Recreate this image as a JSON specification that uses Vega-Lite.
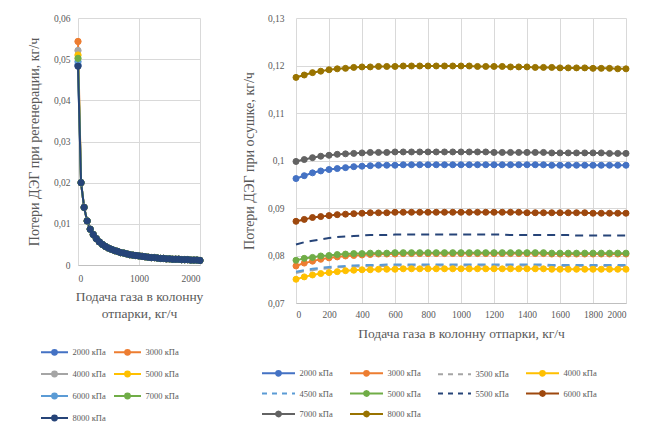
{
"$schema": "https://vega.github.io/schema/vega-lite/v6.json",
"background": "white",
"padding": {"left": 27, "top": 13, "right": 4, "bottom": 2},
"config": {
  "font": "Liberation Serif, Times New Roman, serif",
  "view": {"stroke": null},
  "concat": {"spacing": 36},
  "axis": {"labelFont": "Liberation Serif, Times New Roman, serif", "titleFont": "Liberation Serif, Times New Roman, serif", "labelFontSize": 9.5, "titleFontSize": 13.5, "titleFontWeight": "normal", "labelColor": "#595959", "titleColor": "#595959", "gridColor": "#d9d9d9", "domainColor": "#bfbfbf", "ticks": false},
  "axisY": {"titleFontSize": 14},
  "legend": {"labelFont": "Liberation Serif, Times New Roman, serif", "labelFontSize": 8.5, "labelColor": "#595959", "padding": 0}
},
"resolve": {"scale": {"fill": "independent", "stroke": "independent"}, "legend": {"fill": "independent", "stroke": "independent"}},
"datasets": {
"L": [
{"s":2000,"x":0,"y":0.0486},{"s":2000,"x":50,"y":0.02},{"s":2000,"x":100,"y":0.014},{"s":2000,"x":150,"y":0.0107},{"s":2000,"x":200,"y":0.0087},{"s":2000,"x":250,"y":0.0074},{"s":2000,"x":300,"y":0.0064},{"s":2000,"x":350,"y":0.0056},{"s":2000,"x":400,"y":0.005},{"s":2000,"x":450,"y":0.0045},{"s":2000,"x":500,"y":0.0041},{"s":2000,"x":550,"y":0.0038},{"s":2000,"x":600,"y":0.0035},{"s":2000,"x":650,"y":0.0033},{"s":2000,"x":700,"y":0.003},{"s":2000,"x":750,"y":0.0029},{"s":2000,"x":800,"y":0.0027},{"s":2000,"x":850,"y":0.0025},{"s":2000,"x":900,"y":0.0024},{"s":2000,"x":950,"y":0.0023},{"s":2000,"x":1000,"y":0.0022},{"s":2000,"x":1050,"y":0.0021},{"s":2000,"x":1100,"y":0.002},{"s":2000,"x":1150,"y":0.0019},{"s":2000,"x":1200,"y":0.0018},{"s":2000,"x":1250,"y":0.0018},{"s":2000,"x":1300,"y":0.0017},{"s":2000,"x":1350,"y":0.0016},{"s":2000,"x":1400,"y":0.0016},{"s":2000,"x":1450,"y":0.0015},{"s":2000,"x":1500,"y":0.0015},{"s":2000,"x":1550,"y":0.0014},{"s":2000,"x":1600,"y":0.0014},{"s":2000,"x":1650,"y":0.0014},{"s":2000,"x":1700,"y":0.0013},{"s":2000,"x":1750,"y":0.0013},{"s":2000,"x":1800,"y":0.0013},{"s":2000,"x":1850,"y":0.0012},{"s":2000,"x":1900,"y":0.0012},{"s":2000,"x":1950,"y":0.0012},{"s":2000,"x":2000,"y":0.0011},
{"s":3000,"x":0,"y":0.0543},{"s":3000,"x":50,"y":0.02},{"s":3000,"x":100,"y":0.014},{"s":3000,"x":150,"y":0.0107},{"s":3000,"x":200,"y":0.0087},{"s":3000,"x":250,"y":0.0074},{"s":3000,"x":300,"y":0.0064},{"s":3000,"x":350,"y":0.0056},{"s":3000,"x":400,"y":0.005},{"s":3000,"x":450,"y":0.0045},{"s":3000,"x":500,"y":0.0041},{"s":3000,"x":550,"y":0.0038},{"s":3000,"x":600,"y":0.0035},{"s":3000,"x":650,"y":0.0033},{"s":3000,"x":700,"y":0.003},{"s":3000,"x":750,"y":0.0029},{"s":3000,"x":800,"y":0.0027},{"s":3000,"x":850,"y":0.0025},{"s":3000,"x":900,"y":0.0024},{"s":3000,"x":950,"y":0.0023},{"s":3000,"x":1000,"y":0.0022},{"s":3000,"x":1050,"y":0.0021},{"s":3000,"x":1100,"y":0.002},{"s":3000,"x":1150,"y":0.0019},{"s":3000,"x":1200,"y":0.0018},{"s":3000,"x":1250,"y":0.0018},{"s":3000,"x":1300,"y":0.0017},{"s":3000,"x":1350,"y":0.0016},{"s":3000,"x":1400,"y":0.0016},{"s":3000,"x":1450,"y":0.0015},{"s":3000,"x":1500,"y":0.0015},{"s":3000,"x":1550,"y":0.0014},{"s":3000,"x":1600,"y":0.0014},{"s":3000,"x":1650,"y":0.0014},{"s":3000,"x":1700,"y":0.0013},{"s":3000,"x":1750,"y":0.0013},{"s":3000,"x":1800,"y":0.0013},{"s":3000,"x":1850,"y":0.0012},{"s":3000,"x":1900,"y":0.0012},{"s":3000,"x":1950,"y":0.0012},{"s":3000,"x":2000,"y":0.0011},
{"s":4000,"x":0,"y":0.0521},{"s":4000,"x":50,"y":0.02},{"s":4000,"x":100,"y":0.014},{"s":4000,"x":150,"y":0.0107},{"s":4000,"x":200,"y":0.0087},{"s":4000,"x":250,"y":0.0074},{"s":4000,"x":300,"y":0.0064},{"s":4000,"x":350,"y":0.0056},{"s":4000,"x":400,"y":0.005},{"s":4000,"x":450,"y":0.0045},{"s":4000,"x":500,"y":0.0041},{"s":4000,"x":550,"y":0.0038},{"s":4000,"x":600,"y":0.0035},{"s":4000,"x":650,"y":0.0033},{"s":4000,"x":700,"y":0.003},{"s":4000,"x":750,"y":0.0029},{"s":4000,"x":800,"y":0.0027},{"s":4000,"x":850,"y":0.0025},{"s":4000,"x":900,"y":0.0024},{"s":4000,"x":950,"y":0.0023},{"s":4000,"x":1000,"y":0.0022},{"s":4000,"x":1050,"y":0.0021},{"s":4000,"x":1100,"y":0.002},{"s":4000,"x":1150,"y":0.0019},{"s":4000,"x":1200,"y":0.0018},{"s":4000,"x":1250,"y":0.0018},{"s":4000,"x":1300,"y":0.0017},{"s":4000,"x":1350,"y":0.0016},{"s":4000,"x":1400,"y":0.0016},{"s":4000,"x":1450,"y":0.0015},{"s":4000,"x":1500,"y":0.0015},{"s":4000,"x":1550,"y":0.0014},{"s":4000,"x":1600,"y":0.0014},{"s":4000,"x":1650,"y":0.0014},{"s":4000,"x":1700,"y":0.0013},{"s":4000,"x":1750,"y":0.0013},{"s":4000,"x":1800,"y":0.0013},{"s":4000,"x":1850,"y":0.0012},{"s":4000,"x":1900,"y":0.0012},{"s":4000,"x":1950,"y":0.0012},{"s":4000,"x":2000,"y":0.0011},
{"s":5000,"x":0,"y":0.051},{"s":5000,"x":50,"y":0.02},{"s":5000,"x":100,"y":0.014},{"s":5000,"x":150,"y":0.0107},{"s":5000,"x":200,"y":0.0087},{"s":5000,"x":250,"y":0.0074},{"s":5000,"x":300,"y":0.0064},{"s":5000,"x":350,"y":0.0056},{"s":5000,"x":400,"y":0.005},{"s":5000,"x":450,"y":0.0045},{"s":5000,"x":500,"y":0.0041},{"s":5000,"x":550,"y":0.0038},{"s":5000,"x":600,"y":0.0035},{"s":5000,"x":650,"y":0.0033},{"s":5000,"x":700,"y":0.003},{"s":5000,"x":750,"y":0.0029},{"s":5000,"x":800,"y":0.0027},{"s":5000,"x":850,"y":0.0025},{"s":5000,"x":900,"y":0.0024},{"s":5000,"x":950,"y":0.0023},{"s":5000,"x":1000,"y":0.0022},{"s":5000,"x":1050,"y":0.0021},{"s":5000,"x":1100,"y":0.002},{"s":5000,"x":1150,"y":0.0019},{"s":5000,"x":1200,"y":0.0018},{"s":5000,"x":1250,"y":0.0018},{"s":5000,"x":1300,"y":0.0017},{"s":5000,"x":1350,"y":0.0016},{"s":5000,"x":1400,"y":0.0016},{"s":5000,"x":1450,"y":0.0015},{"s":5000,"x":1500,"y":0.0015},{"s":5000,"x":1550,"y":0.0014},{"s":5000,"x":1600,"y":0.0014},{"s":5000,"x":1650,"y":0.0014},{"s":5000,"x":1700,"y":0.0013},{"s":5000,"x":1750,"y":0.0013},{"s":5000,"x":1800,"y":0.0013},{"s":5000,"x":1850,"y":0.0012},{"s":5000,"x":1900,"y":0.0012},{"s":5000,"x":1950,"y":0.0012},{"s":5000,"x":2000,"y":0.0011},
{"s":6000,"x":0,"y":0.0494},{"s":6000,"x":50,"y":0.02},{"s":6000,"x":100,"y":0.014},{"s":6000,"x":150,"y":0.0107},{"s":6000,"x":200,"y":0.0087},{"s":6000,"x":250,"y":0.0074},{"s":6000,"x":300,"y":0.0064},{"s":6000,"x":350,"y":0.0056},{"s":6000,"x":400,"y":0.005},{"s":6000,"x":450,"y":0.0045},{"s":6000,"x":500,"y":0.0041},{"s":6000,"x":550,"y":0.0038},{"s":6000,"x":600,"y":0.0035},{"s":6000,"x":650,"y":0.0033},{"s":6000,"x":700,"y":0.003},{"s":6000,"x":750,"y":0.0029},{"s":6000,"x":800,"y":0.0027},{"s":6000,"x":850,"y":0.0025},{"s":6000,"x":900,"y":0.0024},{"s":6000,"x":950,"y":0.0023},{"s":6000,"x":1000,"y":0.0022},{"s":6000,"x":1050,"y":0.0021},{"s":6000,"x":1100,"y":0.002},{"s":6000,"x":1150,"y":0.0019},{"s":6000,"x":1200,"y":0.0018},{"s":6000,"x":1250,"y":0.0018},{"s":6000,"x":1300,"y":0.0017},{"s":6000,"x":1350,"y":0.0016},{"s":6000,"x":1400,"y":0.0016},{"s":6000,"x":1450,"y":0.0015},{"s":6000,"x":1500,"y":0.0015},{"s":6000,"x":1550,"y":0.0014},{"s":6000,"x":1600,"y":0.0014},{"s":6000,"x":1650,"y":0.0014},{"s":6000,"x":1700,"y":0.0013},{"s":6000,"x":1750,"y":0.0013},{"s":6000,"x":1800,"y":0.0013},{"s":6000,"x":1850,"y":0.0012},{"s":6000,"x":1900,"y":0.0012},{"s":6000,"x":1950,"y":0.0012},{"s":6000,"x":2000,"y":0.0011},
{"s":7000,"x":0,"y":0.0502},{"s":7000,"x":50,"y":0.02},{"s":7000,"x":100,"y":0.014},{"s":7000,"x":150,"y":0.0107},{"s":7000,"x":200,"y":0.0087},{"s":7000,"x":250,"y":0.0074},{"s":7000,"x":300,"y":0.0064},{"s":7000,"x":350,"y":0.0056},{"s":7000,"x":400,"y":0.005},{"s":7000,"x":450,"y":0.0045},{"s":7000,"x":500,"y":0.0041},{"s":7000,"x":550,"y":0.0038},{"s":7000,"x":600,"y":0.0035},{"s":7000,"x":650,"y":0.0033},{"s":7000,"x":700,"y":0.003},{"s":7000,"x":750,"y":0.0029},{"s":7000,"x":800,"y":0.0027},{"s":7000,"x":850,"y":0.0025},{"s":7000,"x":900,"y":0.0024},{"s":7000,"x":950,"y":0.0023},{"s":7000,"x":1000,"y":0.0022},{"s":7000,"x":1050,"y":0.0021},{"s":7000,"x":1100,"y":0.002},{"s":7000,"x":1150,"y":0.0019},{"s":7000,"x":1200,"y":0.0018},{"s":7000,"x":1250,"y":0.0018},{"s":7000,"x":1300,"y":0.0017},{"s":7000,"x":1350,"y":0.0016},{"s":7000,"x":1400,"y":0.0016},{"s":7000,"x":1450,"y":0.0015},{"s":7000,"x":1500,"y":0.0015},{"s":7000,"x":1550,"y":0.0014},{"s":7000,"x":1600,"y":0.0014},{"s":7000,"x":1650,"y":0.0014},{"s":7000,"x":1700,"y":0.0013},{"s":7000,"x":1750,"y":0.0013},{"s":7000,"x":1800,"y":0.0013},{"s":7000,"x":1850,"y":0.0012},{"s":7000,"x":1900,"y":0.0012},{"s":7000,"x":1950,"y":0.0012},{"s":7000,"x":2000,"y":0.0011},
{"s":8000,"x":0,"y":0.0483},{"s":8000,"x":50,"y":0.02},{"s":8000,"x":100,"y":0.014},{"s":8000,"x":150,"y":0.0107},{"s":8000,"x":200,"y":0.0087},{"s":8000,"x":250,"y":0.0074},{"s":8000,"x":300,"y":0.0064},{"s":8000,"x":350,"y":0.0056},{"s":8000,"x":400,"y":0.005},{"s":8000,"x":450,"y":0.0045},{"s":8000,"x":500,"y":0.0041},{"s":8000,"x":550,"y":0.0038},{"s":8000,"x":600,"y":0.0035},{"s":8000,"x":650,"y":0.0033},{"s":8000,"x":700,"y":0.003},{"s":8000,"x":750,"y":0.0029},{"s":8000,"x":800,"y":0.0027},{"s":8000,"x":850,"y":0.0025},{"s":8000,"x":900,"y":0.0024},{"s":8000,"x":950,"y":0.0023},{"s":8000,"x":1000,"y":0.0022},{"s":8000,"x":1050,"y":0.0021},{"s":8000,"x":1100,"y":0.002},{"s":8000,"x":1150,"y":0.0019},{"s":8000,"x":1200,"y":0.0018},{"s":8000,"x":1250,"y":0.0018},{"s":8000,"x":1300,"y":0.0017},{"s":8000,"x":1350,"y":0.0016},{"s":8000,"x":1400,"y":0.0016},{"s":8000,"x":1450,"y":0.0015},{"s":8000,"x":1500,"y":0.0015},{"s":8000,"x":1550,"y":0.0014},{"s":8000,"x":1600,"y":0.0014},{"s":8000,"x":1650,"y":0.0014},{"s":8000,"x":1700,"y":0.0013},{"s":8000,"x":1750,"y":0.0013},{"s":8000,"x":1800,"y":0.0013},{"s":8000,"x":1850,"y":0.0012},{"s":8000,"x":1900,"y":0.0012},{"s":8000,"x":1950,"y":0.0012},{"s":8000,"x":2000,"y":0.0011}
],
"R": [
{"s":2000,"x":0,"y":0.0962},{"s":2000,"x":50,"y":0.0968},{"s":2000,"x":100,"y":0.0974},{"s":2000,"x":150,"y":0.0978},{"s":2000,"x":200,"y":0.0981},{"s":2000,"x":250,"y":0.0983},{"s":2000,"x":300,"y":0.0985},{"s":2000,"x":350,"y":0.0987},{"s":2000,"x":400,"y":0.0988},{"s":2000,"x":450,"y":0.0989},{"s":2000,"x":500,"y":0.099},{"s":2000,"x":550,"y":0.099},{"s":2000,"x":600,"y":0.099},{"s":2000,"x":650,"y":0.0991},{"s":2000,"x":700,"y":0.0991},{"s":2000,"x":750,"y":0.0991},{"s":2000,"x":800,"y":0.0991},{"s":2000,"x":850,"y":0.0991},{"s":2000,"x":900,"y":0.0991},{"s":2000,"x":950,"y":0.0991},{"s":2000,"x":1000,"y":0.0991},{"s":2000,"x":1050,"y":0.0991},{"s":2000,"x":1100,"y":0.0991},{"s":2000,"x":1150,"y":0.0991},{"s":2000,"x":1200,"y":0.0991},{"s":2000,"x":1250,"y":0.0991},{"s":2000,"x":1300,"y":0.0991},{"s":2000,"x":1350,"y":0.0991},{"s":2000,"x":1400,"y":0.0991},{"s":2000,"x":1450,"y":0.0991},{"s":2000,"x":1500,"y":0.0991},{"s":2000,"x":1550,"y":0.099},{"s":2000,"x":1600,"y":0.099},{"s":2000,"x":1650,"y":0.099},{"s":2000,"x":1700,"y":0.099},{"s":2000,"x":1750,"y":0.099},{"s":2000,"x":1800,"y":0.099},{"s":2000,"x":1850,"y":0.099},{"s":2000,"x":1900,"y":0.099},{"s":2000,"x":1950,"y":0.099},{"s":2000,"x":2000,"y":0.099},
{"s":3000,"x":0,"y":0.0778},{"s":3000,"x":50,"y":0.0784},{"s":3000,"x":100,"y":0.0788},{"s":3000,"x":150,"y":0.0792},{"s":3000,"x":200,"y":0.0795},{"s":3000,"x":250,"y":0.0797},{"s":3000,"x":300,"y":0.0799},{"s":3000,"x":350,"y":0.08},{"s":3000,"x":400,"y":0.0801},{"s":3000,"x":450,"y":0.0802},{"s":3000,"x":500,"y":0.0803},{"s":3000,"x":550,"y":0.0803},{"s":3000,"x":600,"y":0.0803},{"s":3000,"x":650,"y":0.0804},{"s":3000,"x":700,"y":0.0804},{"s":3000,"x":750,"y":0.0804},{"s":3000,"x":800,"y":0.0804},{"s":3000,"x":850,"y":0.0804},{"s":3000,"x":900,"y":0.0804},{"s":3000,"x":950,"y":0.0804},{"s":3000,"x":1000,"y":0.0804},{"s":3000,"x":1050,"y":0.0804},{"s":3000,"x":1100,"y":0.0804},{"s":3000,"x":1150,"y":0.0804},{"s":3000,"x":1200,"y":0.0804},{"s":3000,"x":1250,"y":0.0804},{"s":3000,"x":1300,"y":0.0804},{"s":3000,"x":1350,"y":0.0804},{"s":3000,"x":1400,"y":0.0804},{"s":3000,"x":1450,"y":0.0804},{"s":3000,"x":1500,"y":0.0804},{"s":3000,"x":1550,"y":0.0803},{"s":3000,"x":1600,"y":0.0803},{"s":3000,"x":1650,"y":0.0803},{"s":3000,"x":1700,"y":0.0803},{"s":3000,"x":1750,"y":0.0803},{"s":3000,"x":1800,"y":0.0803},{"s":3000,"x":1850,"y":0.0803},{"s":3000,"x":1900,"y":0.0803},{"s":3000,"x":1950,"y":0.0803},{"s":3000,"x":2000,"y":0.0803},
{"s":3500,"x":0,"y":0.0763},{"s":3500,"x":50,"y":0.0767},{"s":3500,"x":100,"y":0.0769},{"s":3500,"x":150,"y":0.0772},{"s":3500,"x":200,"y":0.0773},{"s":3500,"x":250,"y":0.0775},{"s":3500,"x":300,"y":0.0776},{"s":3500,"x":350,"y":0.0777},{"s":3500,"x":400,"y":0.0777},{"s":3500,"x":450,"y":0.0778},{"s":3500,"x":500,"y":0.0778},{"s":3500,"x":550,"y":0.0778},{"s":3500,"x":600,"y":0.0779},{"s":3500,"x":650,"y":0.0779},{"s":3500,"x":700,"y":0.0779},{"s":3500,"x":750,"y":0.0779},{"s":3500,"x":800,"y":0.0779},{"s":3500,"x":850,"y":0.0779},{"s":3500,"x":900,"y":0.0779},{"s":3500,"x":950,"y":0.0779},{"s":3500,"x":1000,"y":0.0779},{"s":3500,"x":1050,"y":0.0779},{"s":3500,"x":1100,"y":0.0779},{"s":3500,"x":1150,"y":0.0779},{"s":3500,"x":1200,"y":0.0779},{"s":3500,"x":1250,"y":0.0779},{"s":3500,"x":1300,"y":0.0779},{"s":3500,"x":1350,"y":0.0779},{"s":3500,"x":1400,"y":0.0779},{"s":3500,"x":1450,"y":0.0779},{"s":3500,"x":1500,"y":0.0779},{"s":3500,"x":1550,"y":0.0778},{"s":3500,"x":1600,"y":0.0778},{"s":3500,"x":1650,"y":0.0778},{"s":3500,"x":1700,"y":0.0778},{"s":3500,"x":1750,"y":0.0778},{"s":3500,"x":1800,"y":0.0778},{"s":3500,"x":1850,"y":0.0778},{"s":3500,"x":1900,"y":0.0778},{"s":3500,"x":1950,"y":0.0778},{"s":3500,"x":2000,"y":0.0778},
{"s":4000,"x":0,"y":0.075},{"s":4000,"x":50,"y":0.0755},{"s":4000,"x":100,"y":0.0759},{"s":4000,"x":150,"y":0.0762},{"s":4000,"x":200,"y":0.0764},{"s":4000,"x":250,"y":0.0766},{"s":4000,"x":300,"y":0.0768},{"s":4000,"x":350,"y":0.0769},{"s":4000,"x":400,"y":0.077},{"s":4000,"x":450,"y":0.077},{"s":4000,"x":500,"y":0.0771},{"s":4000,"x":550,"y":0.0771},{"s":4000,"x":600,"y":0.0771},{"s":4000,"x":650,"y":0.0772},{"s":4000,"x":700,"y":0.0772},{"s":4000,"x":750,"y":0.0772},{"s":4000,"x":800,"y":0.0772},{"s":4000,"x":850,"y":0.0772},{"s":4000,"x":900,"y":0.0772},{"s":4000,"x":950,"y":0.0772},{"s":4000,"x":1000,"y":0.0772},{"s":4000,"x":1050,"y":0.0772},{"s":4000,"x":1100,"y":0.0772},{"s":4000,"x":1150,"y":0.0772},{"s":4000,"x":1200,"y":0.0772},{"s":4000,"x":1250,"y":0.0772},{"s":4000,"x":1300,"y":0.0772},{"s":4000,"x":1350,"y":0.0772},{"s":4000,"x":1400,"y":0.0772},{"s":4000,"x":1450,"y":0.0772},{"s":4000,"x":1500,"y":0.0772},{"s":4000,"x":1550,"y":0.0771},{"s":4000,"x":1600,"y":0.0771},{"s":4000,"x":1650,"y":0.0771},{"s":4000,"x":1700,"y":0.0771},{"s":4000,"x":1750,"y":0.0771},{"s":4000,"x":1800,"y":0.0771},{"s":4000,"x":1850,"y":0.0771},{"s":4000,"x":1900,"y":0.0771},{"s":4000,"x":1950,"y":0.0771},{"s":4000,"x":2000,"y":0.0771},
{"s":4500,"x":0,"y":0.0766},{"s":4500,"x":50,"y":0.0769},{"s":4500,"x":100,"y":0.0772},{"s":4500,"x":150,"y":0.0774},{"s":4500,"x":200,"y":0.0776},{"s":4500,"x":250,"y":0.0777},{"s":4500,"x":300,"y":0.0778},{"s":4500,"x":350,"y":0.0779},{"s":4500,"x":400,"y":0.078},{"s":4500,"x":450,"y":0.078},{"s":4500,"x":500,"y":0.078},{"s":4500,"x":550,"y":0.0781},{"s":4500,"x":600,"y":0.0781},{"s":4500,"x":650,"y":0.0781},{"s":4500,"x":700,"y":0.0781},{"s":4500,"x":750,"y":0.0781},{"s":4500,"x":800,"y":0.0781},{"s":4500,"x":850,"y":0.0781},{"s":4500,"x":900,"y":0.0781},{"s":4500,"x":950,"y":0.0781},{"s":4500,"x":1000,"y":0.0781},{"s":4500,"x":1050,"y":0.0781},{"s":4500,"x":1100,"y":0.0781},{"s":4500,"x":1150,"y":0.0781},{"s":4500,"x":1200,"y":0.0781},{"s":4500,"x":1250,"y":0.0781},{"s":4500,"x":1300,"y":0.0781},{"s":4500,"x":1350,"y":0.0781},{"s":4500,"x":1400,"y":0.0781},{"s":4500,"x":1450,"y":0.0781},{"s":4500,"x":1500,"y":0.0781},{"s":4500,"x":1550,"y":0.078},{"s":4500,"x":1600,"y":0.078},{"s":4500,"x":1650,"y":0.078},{"s":4500,"x":1700,"y":0.078},{"s":4500,"x":1750,"y":0.078},{"s":4500,"x":1800,"y":0.078},{"s":4500,"x":1850,"y":0.078},{"s":4500,"x":1900,"y":0.078},{"s":4500,"x":1950,"y":0.078},{"s":4500,"x":2000,"y":0.078},
{"s":5000,"x":0,"y":0.079},{"s":5000,"x":50,"y":0.0794},{"s":5000,"x":100,"y":0.0796},{"s":5000,"x":150,"y":0.0799},{"s":5000,"x":200,"y":0.08},{"s":5000,"x":250,"y":0.0802},{"s":5000,"x":300,"y":0.0803},{"s":5000,"x":350,"y":0.0804},{"s":5000,"x":400,"y":0.0804},{"s":5000,"x":450,"y":0.0805},{"s":5000,"x":500,"y":0.0805},{"s":5000,"x":550,"y":0.0805},{"s":5000,"x":600,"y":0.0806},{"s":5000,"x":650,"y":0.0806},{"s":5000,"x":700,"y":0.0806},{"s":5000,"x":750,"y":0.0806},{"s":5000,"x":800,"y":0.0806},{"s":5000,"x":850,"y":0.0806},{"s":5000,"x":900,"y":0.0806},{"s":5000,"x":950,"y":0.0806},{"s":5000,"x":1000,"y":0.0806},{"s":5000,"x":1050,"y":0.0806},{"s":5000,"x":1100,"y":0.0806},{"s":5000,"x":1150,"y":0.0806},{"s":5000,"x":1200,"y":0.0806},{"s":5000,"x":1250,"y":0.0806},{"s":5000,"x":1300,"y":0.0806},{"s":5000,"x":1350,"y":0.0806},{"s":5000,"x":1400,"y":0.0806},{"s":5000,"x":1450,"y":0.0806},{"s":5000,"x":1500,"y":0.0806},{"s":5000,"x":1550,"y":0.0805},{"s":5000,"x":1600,"y":0.0805},{"s":5000,"x":1650,"y":0.0805},{"s":5000,"x":1700,"y":0.0805},{"s":5000,"x":1750,"y":0.0805},{"s":5000,"x":1800,"y":0.0805},{"s":5000,"x":1850,"y":0.0805},{"s":5000,"x":1900,"y":0.0805},{"s":5000,"x":1950,"y":0.0805},{"s":5000,"x":2000,"y":0.0805},
{"s":5500,"x":0,"y":0.0823},{"s":5500,"x":50,"y":0.0828},{"s":5500,"x":100,"y":0.0831},{"s":5500,"x":150,"y":0.0834},{"s":5500,"x":200,"y":0.0837},{"s":5500,"x":250,"y":0.0839},{"s":5500,"x":300,"y":0.084},{"s":5500,"x":350,"y":0.0841},{"s":5500,"x":400,"y":0.0842},{"s":5500,"x":450,"y":0.0843},{"s":5500,"x":500,"y":0.0843},{"s":5500,"x":550,"y":0.0843},{"s":5500,"x":600,"y":0.0844},{"s":5500,"x":650,"y":0.0844},{"s":5500,"x":700,"y":0.0844},{"s":5500,"x":750,"y":0.0844},{"s":5500,"x":800,"y":0.0844},{"s":5500,"x":850,"y":0.0844},{"s":5500,"x":900,"y":0.0844},{"s":5500,"x":950,"y":0.0844},{"s":5500,"x":1000,"y":0.0844},{"s":5500,"x":1050,"y":0.0844},{"s":5500,"x":1100,"y":0.0844},{"s":5500,"x":1150,"y":0.0844},{"s":5500,"x":1200,"y":0.0844},{"s":5500,"x":1250,"y":0.0844},{"s":5500,"x":1300,"y":0.0843},{"s":5500,"x":1350,"y":0.0843},{"s":5500,"x":1400,"y":0.0843},{"s":5500,"x":1450,"y":0.0843},{"s":5500,"x":1500,"y":0.0843},{"s":5500,"x":1550,"y":0.0843},{"s":5500,"x":1600,"y":0.0843},{"s":5500,"x":1650,"y":0.0843},{"s":5500,"x":1700,"y":0.0842},{"s":5500,"x":1750,"y":0.0842},{"s":5500,"x":1800,"y":0.0842},{"s":5500,"x":1850,"y":0.0842},{"s":5500,"x":1900,"y":0.0842},{"s":5500,"x":1950,"y":0.0842},{"s":5500,"x":2000,"y":0.0842},
{"s":6000,"x":0,"y":0.0872},{"s":6000,"x":50,"y":0.0876},{"s":6000,"x":100,"y":0.088},{"s":6000,"x":150,"y":0.0882},{"s":6000,"x":200,"y":0.0884},{"s":6000,"x":250,"y":0.0886},{"s":6000,"x":300,"y":0.0887},{"s":6000,"x":350,"y":0.0888},{"s":6000,"x":400,"y":0.0889},{"s":6000,"x":450,"y":0.089},{"s":6000,"x":500,"y":0.089},{"s":6000,"x":550,"y":0.089},{"s":6000,"x":600,"y":0.0891},{"s":6000,"x":650,"y":0.0891},{"s":6000,"x":700,"y":0.0891},{"s":6000,"x":750,"y":0.0891},{"s":6000,"x":800,"y":0.0891},{"s":6000,"x":850,"y":0.0891},{"s":6000,"x":900,"y":0.0891},{"s":6000,"x":950,"y":0.0891},{"s":6000,"x":1000,"y":0.0891},{"s":6000,"x":1050,"y":0.0891},{"s":6000,"x":1100,"y":0.0891},{"s":6000,"x":1150,"y":0.0891},{"s":6000,"x":1200,"y":0.0891},{"s":6000,"x":1250,"y":0.0891},{"s":6000,"x":1300,"y":0.0891},{"s":6000,"x":1350,"y":0.0891},{"s":6000,"x":1400,"y":0.089},{"s":6000,"x":1450,"y":0.089},{"s":6000,"x":1500,"y":0.089},{"s":6000,"x":1550,"y":0.089},{"s":6000,"x":1600,"y":0.089},{"s":6000,"x":1650,"y":0.089},{"s":6000,"x":1700,"y":0.089},{"s":6000,"x":1750,"y":0.089},{"s":6000,"x":1800,"y":0.0889},{"s":6000,"x":1850,"y":0.0889},{"s":6000,"x":1900,"y":0.0889},{"s":6000,"x":1950,"y":0.0889},{"s":6000,"x":2000,"y":0.0889},
{"s":7000,"x":0,"y":0.0998},{"s":7000,"x":50,"y":0.1002},{"s":7000,"x":100,"y":0.1006},{"s":7000,"x":150,"y":0.1009},{"s":7000,"x":200,"y":0.1011},{"s":7000,"x":250,"y":0.1013},{"s":7000,"x":300,"y":0.1014},{"s":7000,"x":350,"y":0.1015},{"s":7000,"x":400,"y":0.1016},{"s":7000,"x":450,"y":0.1017},{"s":7000,"x":500,"y":0.1017},{"s":7000,"x":550,"y":0.1017},{"s":7000,"x":600,"y":0.1018},{"s":7000,"x":650,"y":0.1018},{"s":7000,"x":700,"y":0.1018},{"s":7000,"x":750,"y":0.1018},{"s":7000,"x":800,"y":0.1018},{"s":7000,"x":850,"y":0.1018},{"s":7000,"x":900,"y":0.1018},{"s":7000,"x":950,"y":0.1018},{"s":7000,"x":1000,"y":0.1018},{"s":7000,"x":1050,"y":0.1018},{"s":7000,"x":1100,"y":0.1018},{"s":7000,"x":1150,"y":0.1018},{"s":7000,"x":1200,"y":0.1017},{"s":7000,"x":1250,"y":0.1017},{"s":7000,"x":1300,"y":0.1017},{"s":7000,"x":1350,"y":0.1017},{"s":7000,"x":1400,"y":0.1017},{"s":7000,"x":1450,"y":0.1017},{"s":7000,"x":1500,"y":0.1017},{"s":7000,"x":1550,"y":0.1016},{"s":7000,"x":1600,"y":0.1016},{"s":7000,"x":1650,"y":0.1016},{"s":7000,"x":1700,"y":0.1016},{"s":7000,"x":1750,"y":0.1016},{"s":7000,"x":1800,"y":0.1016},{"s":7000,"x":1850,"y":0.1016},{"s":7000,"x":1900,"y":0.1015},{"s":7000,"x":1950,"y":0.1015},{"s":7000,"x":2000,"y":0.1015},
{"s":8000,"x":0,"y":0.1175},{"s":8000,"x":50,"y":0.118},{"s":8000,"x":100,"y":0.1185},{"s":8000,"x":150,"y":0.1188},{"s":8000,"x":200,"y":0.1191},{"s":8000,"x":250,"y":0.1193},{"s":8000,"x":300,"y":0.1194},{"s":8000,"x":350,"y":0.1196},{"s":8000,"x":400,"y":0.1197},{"s":8000,"x":450,"y":0.1197},{"s":8000,"x":500,"y":0.1198},{"s":8000,"x":550,"y":0.1198},{"s":8000,"x":600,"y":0.1198},{"s":8000,"x":650,"y":0.1199},{"s":8000,"x":700,"y":0.1199},{"s":8000,"x":750,"y":0.1199},{"s":8000,"x":800,"y":0.1199},{"s":8000,"x":850,"y":0.1199},{"s":8000,"x":900,"y":0.1199},{"s":8000,"x":950,"y":0.1199},{"s":8000,"x":1000,"y":0.1199},{"s":8000,"x":1050,"y":0.1199},{"s":8000,"x":1100,"y":0.1198},{"s":8000,"x":1150,"y":0.1198},{"s":8000,"x":1200,"y":0.1198},{"s":8000,"x":1250,"y":0.1198},{"s":8000,"x":1300,"y":0.1197},{"s":8000,"x":1350,"y":0.1197},{"s":8000,"x":1400,"y":0.1197},{"s":8000,"x":1450,"y":0.1196},{"s":8000,"x":1500,"y":0.1196},{"s":8000,"x":1550,"y":0.1196},{"s":8000,"x":1600,"y":0.1195},{"s":8000,"x":1650,"y":0.1195},{"s":8000,"x":1700,"y":0.1195},{"s":8000,"x":1750,"y":0.1195},{"s":8000,"x":1800,"y":0.1194},{"s":8000,"x":1850,"y":0.1194},{"s":8000,"x":1900,"y":0.1194},{"s":8000,"x":1950,"y":0.1193},{"s":8000,"x":2000,"y":0.1193}
]
},
"hconcat": [
{
  "width": 122, "height": 247,
  "data": {"name": "L"},
  "encoding": {
    "x": {"field": "x", "type": "quantitative", "scale": {"domain": [0, 2000], "nice": false}, "axis": {"values": [0, 1000, 2000], "format": "d", "title": ["Подача газа в колонну", "отпарки, кг/ч"], "titleLineHeight": 17, "labelPadding": 8, "titlePadding": 7}},
    "y": {"field": "y", "type": "quantitative", "scale": {"domain": [0, 0.06], "nice": false}, "axis": {"values": [0, 0.01, 0.02, 0.03, 0.04, 0.05, 0.06], "labelExpr": "replace(format(datum.value, '~r'), '.', ',')", "title": "Потери ДЭГ при регенерации, кг/ч", "domain": false, "labelPadding": 8, "titlePadding": 12}}
  },
  "layer": [
    {"mark": {"type": "line", "strokeWidth": 2},
     "encoding": {"stroke": {"field": "s", "type": "nominal", "scale": {"domain": [2000,3000,4000,5000,6000,7000,8000], "range": ["#4472C4","#ED7D31","#A5A5A5","#FFC000","#5B9BD5","#70AD47","#264478"]},
       "legend": {"title": null, "orient": "none", "legendX": -38, "legendY": 327, "direction": "horizontal", "columns": 2, "columnPadding": 4, "rowPadding": 8, "symbolType": "M-2.25,0H2.25M0.4,0A0.4,0.4,0,1,1,-0.4,0A0.4,0.4,0,1,1,0.4,0", "symbolSize": 144, "symbolOffset": 7.5, "symbolStrokeWidth": 2, "labelOffset": 11, "labelExpr": "datum.label + ' кПа'"}}}},
    {"mark": {"type": "point", "filled": true, "size": 40, "opacity": 1, "strokeWidth": 1},
     "encoding": {
       "fill": {"field": "s", "type": "nominal", "scale": {"domain": [2000,3000,4000,5000,6000,7000,8000], "range": ["#4472C4","#ED7D31","#A5A5A5","#FFC000","#5B9BD5","#70AD47","#264478"]},
         "legend": {"title": null, "orient": "none", "legendX": -38, "legendY": 327, "direction": "horizontal", "columns": 2, "columnPadding": 4, "rowPadding": 8, "symbolType": "M-2.25,0H2.25M0.4,0A0.4,0.4,0,1,1,-0.4,0A0.4,0.4,0,1,1,0.4,0", "symbolSize": 144, "symbolOffset": 7.5, "symbolStrokeWidth": 2, "labelOffset": 11, "labelExpr": "datum.label + ' кПа'"}},
       "stroke": {"field": "s", "type": "nominal"}
     }}
  ]
},
{
  "width": 330, "height": 285,
  "data": {"name": "R"},
  "encoding": {
    "x": {"field": "x", "type": "quantitative", "scale": {"domain": [0, 2000], "nice": false}, "axis": {"values": [0,200,400,600,800,1000,1200,1400,1600,1800,2000], "format": "d", "title": "Подача газа в колонну отпарки, кг/ч", "labelPadding": 6, "titlePadding": 8}},
    "y": {"field": "y", "type": "quantitative", "scale": {"domain": [0.07, 0.13], "nice": false, "zero": false}, "axis": {"values": [0.07,0.08,0.09,0.1,0.11,0.12,0.13], "labelExpr": "replace(format(datum.value, '~r'), '.', ',')", "title": "Потери ДЭГ при осушке, кг/ч", "domain": false, "labelPadding": 12, "titlePadding": 11}}
  },
  "layer": [
    {"mark": {"type": "line", "strokeWidth": 2},
     "encoding": {
       "stroke": {"field": "s", "type": "nominal", "scale": {"domain": [2000,3000,3500,4000,4500,5000,5500,6000,7000,8000], "range": ["#4472C4","#ED7D31","#A5A5A5","#FFC000","#5B9BD5","#70AD47","#264478","#9E480E","#636363","#997300"]},
         "legend": {"title": null, "orient": "none", "legendX": -35, "legendY": 348, "direction": "horizontal", "columns": 4, "columnPadding": 13, "rowPadding": 6.5, "symbolType": "M-2.75,0H2.75M0.4,0A0.4,0.4,0,1,1,-0.4,0A0.4,0.4,0,1,1,0.4,0", "symbolSize": 144, "symbolOffset": 10.5, "symbolStrokeWidth": 2, "labelOffset": 14, "labelExpr": "datum.label + ' кПа'",
           "encode": {"symbols": {"update": {"shape": [{"test": "datum.value==3500||datum.value==4500||datum.value==5500", "value": "M-2.75,0H2.75"}, {"value": "M-2.75,0H2.75M0.4,0A0.4,0.4,0,1,1,-0.4,0A0.4,0.4,0,1,1,0.4,0"}], "strokeDash": [{"test": "datum.value==3500||datum.value==4500||datum.value==5500", "value": [5,5]}, {"value": [1,0]}]}}}}},
       "strokeDash": {"condition": {"test": "datum.s==3500||datum.s==4500||datum.s==5500", "value": [8,6]}, "value": [1,0]}
     }},
    {"transform": [{"filter": "datum.s!=3500 && datum.s!=4500 && datum.s!=5500"}],
     "mark": {"type": "point", "filled": true, "size": 36, "opacity": 1, "strokeWidth": 1},
     "encoding": {
       "fill": {"field": "s", "type": "nominal", "scale": {"domain": [2000,3000,3500,4000,4500,5000,5500,6000,7000,8000], "range": ["#4472C4","#ED7D31","#A5A5A5","#FFC000","#5B9BD5","#70AD47","#264478","#9E480E","#636363","#997300"]},
         "legend": {"title": null, "orient": "none", "legendX": -35, "legendY": 348, "direction": "horizontal", "columns": 4, "columnPadding": 13, "rowPadding": 6.5, "symbolType": "M-2.75,0H2.75M0.4,0A0.4,0.4,0,1,1,-0.4,0A0.4,0.4,0,1,1,0.4,0", "symbolSize": 144, "symbolOffset": 10.5, "symbolStrokeWidth": 2, "labelOffset": 14, "labelExpr": "datum.label + ' кПа'",
           "encode": {"symbols": {"update": {"shape": [{"test": "datum.value==3500||datum.value==4500||datum.value==5500", "value": "M-2.75,0H2.75"}, {"value": "M-2.75,0H2.75M0.4,0A0.4,0.4,0,1,1,-0.4,0A0.4,0.4,0,1,1,0.4,0"}], "strokeDash": [{"test": "datum.value==3500||datum.value==4500||datum.value==5500", "value": [5,5]}, {"value": [1,0]}]}}}}},
       "stroke": {"field": "s", "type": "nominal"}
     }}
  ]
}
]
}
